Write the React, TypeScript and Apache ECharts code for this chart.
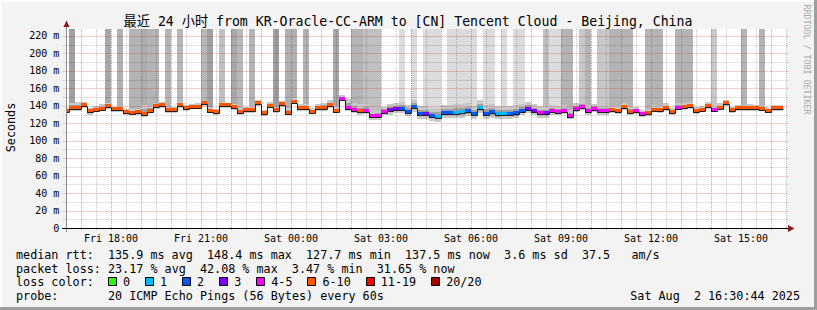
import React, { useEffect, useRef } from 'react';
import * as echarts from 'echarts';

// ---- time frame (hours since Fri 00:00) ----
const T0 = 16 + 30 / 60 + 44 / 3600; // Fri 16:30:44
const T1 = T0 + 24; // Sat 16:30:44
const SLOT_START = 16.4; // first 12-minute RRA slot starts Fri 16:24
const SLOT_H = 0.2; // 12 minutes
const Y_MAX = 228;

const xTickValues = [18, 21, 24, 27, 30, 33, 36, 39];
const xTickLabels = ['Fri 18:00', 'Fri 21:00', 'Sat 00:00', 'Sat 03:00', 'Sat 06:00', 'Sat 09:00', 'Sat 12:00', 'Sat 15:00'];

// median rtt per 12-minute slot (ms)
const median = [
  134, 137.5, 137.5, 141, 134.5, 135.5, 136.5, 139.5, 136, 136,
  132.5, 132, 132.5, 131, 134.5, 139.5, 140.5, 135, 135, 140.5,
  137, 139, 139, 143, 134.5, 133, 140.5, 140.5, 138.5, 133,
  135, 135.2, 142.9, 131.4, 140.2, 135.2, 142, 132, 144.7, 137.5,
  137.5, 133.3, 137.5, 138, 140.6, 134.4, 148.2, 138, 135.5, 134,
  134.4, 127.8, 128.3, 133, 135, 136.5, 136.5, 133.3, 139, 131,
  131, 128.5, 127.5, 132, 132, 132, 132.5, 134, 131, 137.5,
  131, 132.5, 130.5, 131, 131, 131.5, 134.4, 136.5, 134, 131.4,
  131.4, 133.7, 133, 134.4, 128.5, 136.5, 139, 134, 136.5, 134,
  134, 135, 133.5, 138.3, 133, 133.5, 130.6, 131.5, 135.5, 135,
  137, 133, 138, 138.3, 139.8, 134, 135.5, 139.8, 135.5, 137.8,
  143, 135.2, 137.5, 137.5, 137.5, 137.5, 136.5, 134.5, 137.5, 137.5,
];

// loss colour class per slot (index into lossColors)
const lossIdx = [
  5, 5, 5, 5, 5, 5, 5, 5, 5, 5,
  5, 5, 5, 5, 5, 5, 5, 5, 5, 5,
  5, 5, 5, 5, 5, 5, 5, 5, 5, 5,
  5, 5, 5, 5, 5, 5, 5, 5, 5, 5,
  5, 5, 5, 5, 5, 5, 4, 4, 4, 5,
  4, 4, 4, 4, 3, 3, 2, 2, 2, 2,
  3, 2, 1, 2, 2, 1, 1, 2, 2, 1,
  2, 2, 1, 1, 2, 2, 2, 3, 3, 4,
  3, 4, 4, 4, 4, 4, 4, 4, 4, 4,
  4, 5, 5, 5, 5, 4, 4, 5, 5, 5,
  5, 5, 4, 5, 5, 5, 5, 5, 4, 5,
  5, 5, 5, 5, 5, 5, 5, 5, 5, 5,
];

// smoke extent above / below the median (ms)
const smokeUp = [
  3, 6, 7, 3, 3, 4, 5, 4, 3, 4, 4, 4, 4, 10, 5, 4, 4, 4, 4, 4,
  4, 3, 4, 3, 4, 3, 4, 3, 4, 4, 4, 5, 4, 4, 4, 4, 4, 6, 4, 4,
  4, 4, 4, 5, 6, 5, 4, 10, 8, 8, 8, 6, 6, 6, 7, 7, 8, 8, 8, 9,
  9, 9, 10, 9, 9, 10, 10, 9, 9, 9, 10, 9, 9, 9, 9, 9, 8, 8, 8, 8,
  8, 7, 7, 7, 7, 7, 7, 7, 6, 6, 6, 5, 6, 5, 6, 5, 5, 5, 5, 5,
  6, 5, 5, 5, 5, 5, 4, 5, 4, 5, 4, 3, 3, 3, 4, 3, 3, 3, 3, 3,
];
const smokeDn = [
  2, 3, 3, 3, 5, 3, 3, 3, 3, 3, 3, 3, 3, 4, 3, 3, 3, 3, 3, 3,
  3, 3, 3, 3, 3, 3, 3, 3, 3, 3, 3, 3, 3, 3, 3, 3, 3, 3, 3, 3,
  3, 3, 3, 4, 3, 3, 3, 4, 4, 4, 4, 4, 4, 4, 5, 5, 5, 5, 6, 6,
  6, 6, 6, 6, 6, 6, 6, 6, 6, 6, 6, 6, 6, 6, 6, 6, 5, 5, 5, 5,
  5, 4, 4, 4, 4, 4, 4, 4, 4, 4, 4, 3, 3, 3, 3, 3, 3, 3, 3, 3,
  3, 3, 3, 3, 3, 3, 3, 3, 3, 3, 3, 3, 3, 3, 3, 3, 3, 3, 3, 3,
];

// grey level of the tall smoke reaching the top (0 = none)
const tallShade = [
  0, 0xa0, 0, 0, 0, 0, 0, 0xa8, 0, 0xb0,
  0, 0xb4, 0xb4, 0xac, 0xb4, 0xb4, 0, 0xb4, 0, 0xb8,
  0, 0, 0, 0xb8, 0xa0, 0, 0xc0, 0, 0xa8, 0xb8,
  0, 0xb4, 0, 0, 0, 0xa0, 0, 0xb0, 0xb0, 0,
  0xb4, 0, 0, 0, 0, 0xa8, 0, 0, 0xb4, 0xb4,
  0xc0, 0xc0, 0xc0, 0, 0, 0, 0xdc, 0, 0xdc, 0,
  0xdc, 0xdc, 0xdc, 0, 0xdc, 0xdc, 0xdc, 0xdc, 0xdc, 0,
  0xdc, 0xdc, 0, 0xdc, 0, 0xdc, 0xdc, 0, 0, 0,
  0xc0, 0xdc, 0xdc, 0xb4, 0xb4, 0, 0xc8, 0xb4, 0, 0xc8,
  0xc8, 0xb4, 0xb4, 0xb4, 0xb4, 0, 0, 0xb4, 0xb4, 0xb4,
  0, 0, 0xb4, 0xb4, 0xb4, 0, 0, 0, 0xc8, 0,
  0, 0, 0, 0xb4, 0, 0, 0xb4, 0, 0, 0,
];

const lossColors = ['#26ff00', '#00b8ff', '#0059ff', '#7e00ff', '#ff00ff', '#ff5500', '#ff0000', '#a10000'];
const lossLabels = ['0', '1', '2', '3', '4-5', '6-10', '11-19', '20/20'];

const titleText = '最近 24 小时 from KR-Oracle-CC-ARM to [CN] Tencent Cloud - Beijing, China';
const statsLine = 'median rtt:  135.9 ms avg  148.4 ms max  127.7 ms min  137.5 ms now  3.6 ms sd  37.5   am/s';
const lossLine = 'packet loss: 23.17 % avg  42.08 % max  3.47 % min  31.65 % now';
const lossColorLabel = 'loss color:';
const probeLabel = 'probe:';
const probeText = '20 ICMP Echo Pings (56 Bytes) every 60s';
const dateText = 'Sat Aug  2 16:30:44 2025';
const yAxisName = 'Seconds';
const watermark = 'RRDTOOL / TOBI OETIKER';

const FONT = '"DejaVu Sans Mono", "Noto Sans CJK SC", monospace';
const LEG_SIZE = 11.75;
const CW = LEG_SIZE * 0.602;

function textEl(text: string, x: number, y: number, size: number, opts: any = {}) {
  const align = opts.align || 'left';
  return {
    type: 'text',
    x,
    y,
    rotation: opts.rotation || 0,
    z: 20,
    silent: true,
    style: {
      text,
      fill: opts.fill || '#000',
      fontSize: size,
      fontFamily: FONT,
      textAlign: align,
      align,
      textVerticalAlign: 'middle',
      verticalAlign: 'middle',
    },
  };
}

// split a monospaced line into runs so that multiple spaces keep their width
function monoLine(str: string, x0: number, y: number, size = LEG_SIZE) {
  const out: any[] = [];
  const re = /\S+(?: \S+)*/g;
  let m: RegExpExecArray | null;
  while ((m = re.exec(str))) {
    out.push(textEl(m[0], x0 + m.index * size * 0.602, y, size));
  }
  return out;
}

export default function App() {
  const ref = useRef<HTMLDivElement>(null);

  useEffect(() => {
    document.body.style.margin = '0';
    if (!ref.current) return;
    const chart = echarts.init(ref.current, undefined, { renderer: 'svg' });

    const slotData = median.map((m, i) => [
      SLOT_START + i * SLOT_H,
      SLOT_START + (i + 1) * SLOT_H,
      m,
      i > 0 ? median[i - 1] : m,
      lossIdx[i],
      smokeUp[i],
      smokeDn[i],
      tallShade[i],
    ]);

    const gridData: number[][] = [];
    for (let t = 17; t <= T1 + 1e-9; t += 0.5) {
      gridData.push([Number.isInteger(t) ? 1 : 0, t]);
    }
    for (let v = 10; v <= 220; v += 10) {
      gridData.push([v % 20 === 0 ? 3 : 2, v]);
    }

    const smokeSeries = {
      type: 'custom',
      name: 'smoke',
      z: 1,
      clip: true,
      silent: true,
      data: slotData,
      renderItem: (params: any, api: any) => {
        const t0 = api.value(0), t1 = api.value(1), m = api.value(2);
        const up = api.value(5), dn = api.value(6), shade = api.value(7);
        const x0 = Math.round(api.coord([t0, 0])[0]);
        const x1 = Math.round(api.coord([t1, 0])[0]);
        const yTop = api.coord([t0, Y_MAX])[1];
        const yHi = Math.round(api.coord([t0, m + up])[1]);
        const yLo = Math.round(api.coord([t0, m - dn])[1]);
        const yHi2 = Math.round(api.coord([t0, m + up / 2])[1]);
        const yLo2 = Math.round(api.coord([t0, m - dn / 2])[1]);
        const children: any[] = [];
        if (shade > 0) {
          children.push({
            type: 'rect',
            shape: { x: x0, y: yTop, width: x1 - x0, height: yHi - yTop },
            style: { fill: `rgb(${shade},${shade},${shade})` },
          });
        }
        children.push({
          type: 'rect',
          shape: { x: x0, y: yHi, width: x1 - x0, height: yLo - yHi },
          style: { fill: '#c8c8c8' },
        });
        children.push({
          type: 'rect',
          shape: { x: x0, y: yHi2, width: x1 - x0, height: yLo2 - yHi2 },
          style: { fill: '#a0a0a0' },
        });
        return { type: 'group', children };
      },
    };

    const gridSeries = {
      type: 'custom',
      name: 'grid',
      z: 2,
      clip: false,
      silent: true,
      data: gridData,
      renderItem: (params: any, api: any) => {
        const kind = api.value(0), v = api.value(1);
        const major = kind === 1 || kind === 3;
        const stroke = major ? 'rgba(255,0,0,0.42)' : 'rgba(0,0,0,0.22)';
        if (kind < 2) {
          const x = Math.round(api.coord([v, 0])[0]) + 0.5;
          const yb = api.coord([v, 0])[1];
          const yt = api.coord([v, Y_MAX])[1];
          return {
            type: 'line',
            shape: { x1: x, y1: yb + 2, x2: x, y2: yt },
            style: { stroke, lineWidth: 1, lineDash: [1, 1] },
          };
        }
        const y = Math.round(api.coord([T0, v])[1]) + 0.5;
        const xl = api.coord([T0, v])[0];
        const xr = api.coord([T1, v])[0];
        return {
          type: 'line',
          shape: { x1: xl - 3, y1: y, x2: xr + 3, y2: y },
          style: { stroke, lineWidth: 1, lineDash: [1, 1] },
        };
      },
    };

    const medianSeries = {
      type: 'custom',
      name: 'median rtt',
      z: 3,
      clip: true,
      silent: true,
      data: slotData,
      renderItem: (params: any, api: any) => {
        const t0 = api.value(0), t1 = api.value(1), m = api.value(2), prev = api.value(3);
        const li = api.value(4);
        const x0 = Math.round(api.coord([t0, 0])[0]);
        const x1 = Math.round(api.coord([t1, 0])[0]);
        const y = Math.round(api.coord([t0, m])[1]);
        const yp = Math.round(api.coord([t0, prev])[1]);
        return {
          type: 'group',
          children: [
            {
              type: 'rect',
              shape: { x: x0, y: y - 2, width: x1 - x0, height: 3 },
              style: { fill: lossColors[li] },
            },
            {
              type: 'line',
              shape: { x1: x0 + 0.5, y1: yp + 1.5, x2: x0 + 0.5, y2: y + 1.5 },
              style: { stroke: '#202020', lineWidth: 1 },
            },
            {
              type: 'line',
              shape: { x1: x0, y1: y + 1.5, x2: x1 + 0.5, y2: y + 1.5 },
              style: { stroke: '#202020', lineWidth: 1 },
            },
          ],
        };
      },
    };

    // legend / text graphics
    const graphics: any[] = [];
    graphics.push({ type: 'rect', shape: { x: 0, y: 0, width: 817, height: 2 }, style: { fill: '#fcfcfc' }, z: 15, silent: true });
    graphics.push({ type: 'rect', shape: { x: 0, y: 0, width: 2, height: 310 }, style: { fill: '#fcfcfc' }, z: 15, silent: true });
    graphics.push({ type: 'rect', shape: { x: 814, y: 0, width: 3, height: 310 }, style: { fill: '#9e9e9e' }, z: 15, silent: true });
    graphics.push({ type: 'rect', shape: { x: 0, y: 307, width: 817, height: 3 }, style: { fill: '#9e9e9e' }, z: 15, silent: true });

    graphics.push(textEl(titleText, 408, 21.5, 13.2, { align: 'center' }));
    graphics.push(textEl(yAxisName, 11, 127.5, LEG_SIZE, { align: 'center', rotation: Math.PI / 2 }));
    graphics.push(textEl(watermark, 807, 59.5, 8.3, { align: 'center', rotation: -Math.PI / 2, fill: '#a8a8a8' }));

    // axes lines + arrows
    graphics.push({ type: 'line', shape: { x1: 66.5, y1: 232, x2: 66.5, y2: 24 }, style: { stroke: '#8a8a8a', lineWidth: 1 }, z: 12, silent: true });
    graphics.push({ type: 'line', shape: { x1: 62, y1: 228.5, x2: 789, y2: 228.5 }, style: { stroke: '#000', lineWidth: 1 }, z: 12, silent: true });
    graphics.push({ type: 'polygon', shape: { points: [[63.5, 27], [69.5, 27], [66.5, 20.5]] }, style: { fill: '#8b1a1a' }, z: 12, silent: true });
    graphics.push({ type: 'polygon', shape: { points: [[788, 225], [788, 232], [794.5, 228.5]] }, style: { fill: '#8b1a1a' }, z: 12, silent: true });

    const X0 = 16;
    graphics.push(...monoLine(statsLine, X0, 254.5));
    graphics.push(...monoLine(lossLine, X0, 268.5));
    graphics.push(...monoLine(lossColorLabel, X0, 282));
    let bx = X0 + 13 * CW;
    lossLabels.forEach((lab, i) => {
      graphics.push({
        type: 'rect',
        shape: { x: Math.round(bx) + 0.5, y: 277.5, width: 8, height: 8 },
        style: { fill: lossColors[i], stroke: '#000', lineWidth: 1 },
        z: 20,
        silent: true,
      });
      graphics.push(textEl(lab, bx + 15, 282, LEG_SIZE));
      bx += 30 + CW * lab.length;
    });
    graphics.push(...monoLine(probeLabel, X0, 296));
    graphics.push(...monoLine(probeText, X0 + 13 * CW, 296));
    graphics.push(...monoLine(dateText, 800 - dateText.length * CW, 296));

    const option: any = {
      animation: false,
      backgroundColor: '#f3f3f3',
      grid: {
        left: 66.367,
        right: 30.633,
        top: 29,
        bottom: 82,
        show: true,
        backgroundColor: '#ffffff',
        borderWidth: 0,
        containLabel: false,
      },
      xAxis: {
        type: 'value',
        min: T0,
        max: T1,
        axisLine: { show: false },
        axisTick: { show: false },
        splitLine: { show: false },
        axisLabel: {
          customValues: xTickValues,
          formatter: (v: number) => {
            const i = xTickValues.findIndex((t) => Math.abs(t - v) < 1e-6);
            return i >= 0 ? xTickLabels[i] : '';
          },
          fontFamily: FONT,
          fontSize: 10,
          color: '#000',
          margin: 5,
        },
      },
      yAxis: {
        type: 'value',
        min: 0,
        max: Y_MAX,
        interval: 20,
        axisLine: { show: false },
        axisTick: { show: false },
        splitLine: { show: false },
        axisLabel: {
          formatter: (v: number) => (v === 0 ? '0' : v <= 220 ? `${v} m` : ''),
          fontFamily: FONT,
          fontSize: 10,
          color: '#000',
          margin: 7,
        },
      },
      series: [smokeSeries, gridSeries, medianSeries],
      graphic: graphics,
    };

    chart.setOption(option);
    return () => chart.dispose();
  }, []);

  return <div ref={ref} style={{ width: 817, height: 310 }} />;
}
